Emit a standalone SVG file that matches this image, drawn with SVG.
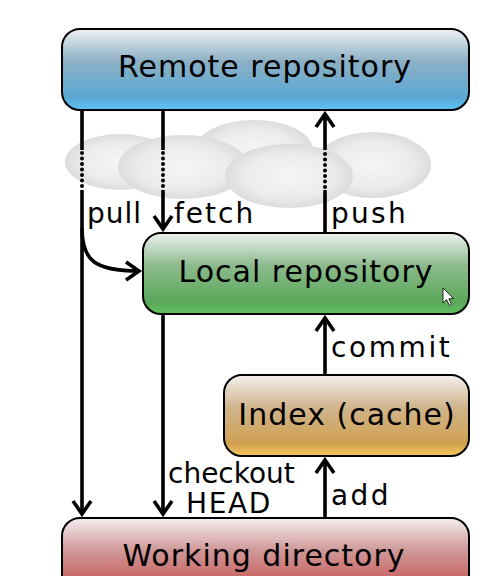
<svg xmlns="http://www.w3.org/2000/svg" width="500" height="576" viewBox="0 0 500 576">
<style>
.box{stroke:#000;stroke-width:2}
.nt{font-family:"DejaVu Sans",sans-serif;font-size:30px;letter-spacing:1px;text-anchor:middle;fill:#000}
.lb{font-family:"DejaVu Sans",sans-serif;font-size:28px;fill:#000}
.ln{fill:none;stroke:#000;stroke-width:3.6}
.dot{fill:none;stroke:#000;stroke-width:4;stroke-dasharray:0 5.5;stroke-linecap:round}
.cl{fill:url(#gc)}
</style>
<defs>
<linearGradient id="gr" x1="0" y1="0" x2="0" y2="1"><stop offset="0" stop-color="#eef2f4"/><stop offset="0.4" stop-color="#8cb0c4"/><stop offset="0.85" stop-color="#5aa8d4"/><stop offset="1" stop-color="#5ec4f6"/></linearGradient>
<linearGradient id="gl" x1="0" y1="0" x2="0" y2="1"><stop offset="0" stop-color="#eef2ee"/><stop offset="0.4" stop-color="#8dba8d"/><stop offset="0.85" stop-color="#5aa85a"/><stop offset="1" stop-color="#60c060"/></linearGradient>
<linearGradient id="gi" x1="0" y1="0" x2="0" y2="1"><stop offset="0" stop-color="#f4f0ee"/><stop offset="0.4" stop-color="#d0b48c"/><stop offset="0.85" stop-color="#d0a050"/><stop offset="1" stop-color="#f8c860"/></linearGradient>
<linearGradient id="gw" x1="0" y1="0" x2="0" y2="1"><stop offset="0" stop-color="#f4eef0"/><stop offset="0.4" stop-color="#d09898"/><stop offset="0.85" stop-color="#c85858"/><stop offset="1" stop-color="#d86060"/></linearGradient>
<radialGradient id="gc" cx="0.5" cy="0.5" r="0.5"><stop offset="0" stop-color="#f6f6f6"/><stop offset="0.7" stop-color="#ebebeb"/><stop offset="1" stop-color="#dcdcdc"/></radialGradient>
<marker id="ah" markerWidth="26" markerHeight="26" viewBox="-19 -13 26 26" refX="0" refY="0" orient="auto" markerUnits="userSpaceOnUse"><path d="M-13,-9 L0,0 L-13,9" fill="none" stroke="#000" stroke-width="3.6"/></marker>
</defs>
<g id="clouds">
<ellipse class="cl" cx="254" cy="150" rx="59" ry="30"/>
<ellipse class="cl" cx="120" cy="162" rx="55" ry="28"/>
<ellipse class="cl" cx="183" cy="167" rx="65" ry="32"/>
<ellipse class="cl" cx="373" cy="165" rx="58" ry="33"/>
<ellipse class="cl" cx="289" cy="176" rx="64" ry="32"/>
</g>
<g id="remote"><rect class="box" x="62" y="29" width="407" height="81" rx="18" fill="url(#gr)"/><text class="nt" x="265" y="77" letter-spacing="1.3">Remote repository</text></g>
<g id="local"><rect class="box" x="143" y="233" width="326" height="81" rx="18" fill="url(#gl)"/><text class="nt" x="306" y="282">Local repository</text>
<path d="M443,288 L443,303 L446.5,299.5 L449.5,305.5 L451.5,304.5 L448.8,298.8 L453.5,298.5 Z" fill="#fff" stroke="#000" stroke-width="0.8"/></g>
<g id="index"><rect class="box" x="224" y="375" width="245" height="81" rx="18" fill="url(#gi)"/><text class="nt" x="347" y="425">Index (cache)</text></g>
<g id="working"><rect class="box" x="62" y="518" width="407" height="81" rx="18" fill="url(#gw)"/><text class="nt" x="264" y="566">Working directory</text></g>
<g id="connectors">
<path class="ln" d="M82,110 V150"/><path class="dot" d="M82,153 V187"/><path class="ln" d="M82,190 V514" marker-end="url(#ah)"/>
<path class="ln" d="M82,228 C82,260 94,271 139,271" marker-end="url(#ah)"/>
<path class="ln" d="M163,110 V150"/><path class="dot" d="M163,153 V187"/><path class="ln" d="M163,190 V229" marker-end="url(#ah)"/>
<path class="ln" d="M325,233 V190"/><path class="dot" d="M325,187 V153"/><path class="ln" d="M325,150 V114" marker-end="url(#ah)"/>
<path class="ln" d="M325,375 V318" marker-end="url(#ah)"/>
<path class="ln" d="M163,314 V514" marker-end="url(#ah)"/>
<path class="ln" d="M325,518 V460" marker-end="url(#ah)"/>
<text class="lb" x="87" y="223" letter-spacing="1">pull</text>
<text class="lb" x="174" y="223" letter-spacing="2">fetch</text>
<text class="lb" x="331" y="223" letter-spacing="2.3">push</text>
<text class="lb" x="331" y="357" letter-spacing="2.6">commit</text>
<text class="lb" x="168" y="483" letter-spacing="0">checkout</text>
<text class="lb" x="186" y="513" letter-spacing="1.6">HEAD</text>
<text class="lb" x="331" y="505" letter-spacing="2.4">add</text>
</g>
</svg>
